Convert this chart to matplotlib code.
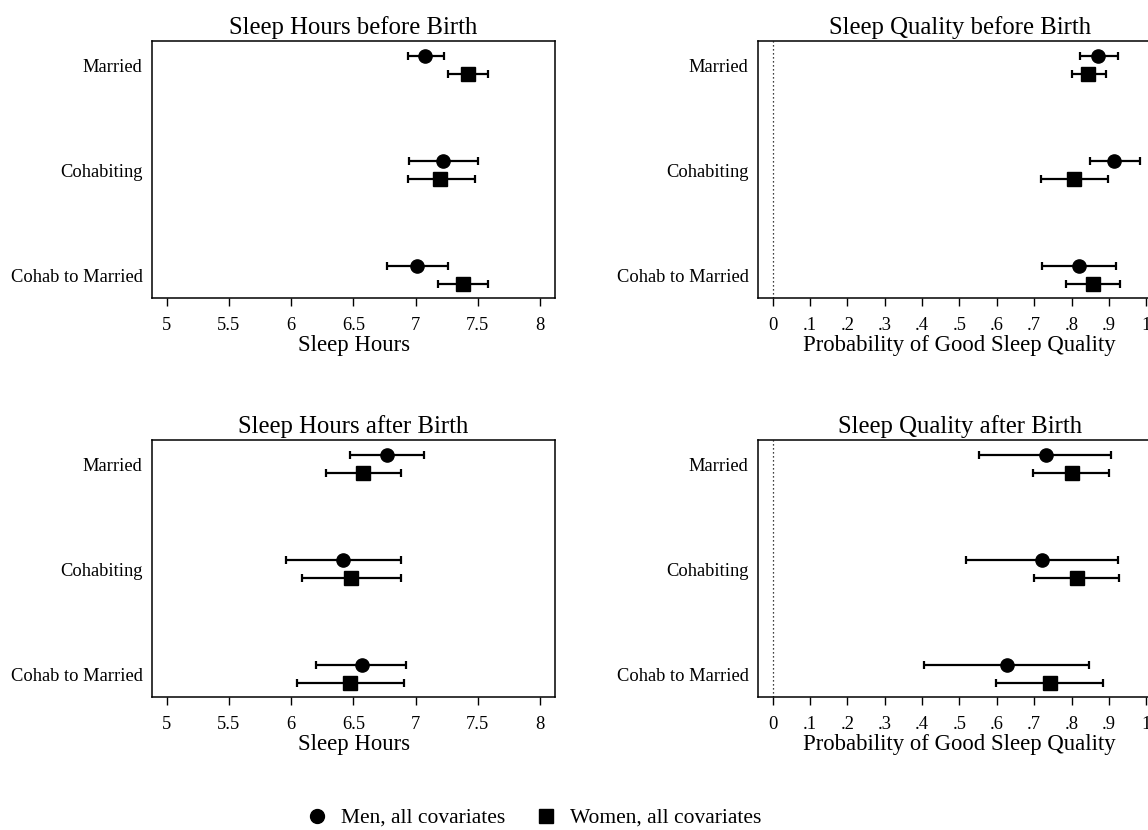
import matplotlib
matplotlib.use('Agg')
import matplotlib.pyplot as plt
from matplotlib.lines import Line2D

plt.rcParams['font.family'] = ['Liberation Serif', 'DejaVu Serif']

groups = ["Married", "Cohabiting", "Cohab to Married"]

# sleep hours before birth
hrs_pre_men = [7.08, 7.22, 7.01]
hrs_pre_men_lo = [6.94, 6.95, 6.77]
hrs_pre_men_hi = [7.23, 7.50, 7.26]
hrs_pre_wom = [7.42, 7.20, 7.38]
hrs_pre_wom_lo = [7.26, 6.94, 7.18]
hrs_pre_wom_hi = [7.58, 7.48, 7.58]

# sleep quality before birth
q_pre_men = [0.872, 0.915, 0.820]
q_pre_men_lo = [0.823, 0.850, 0.720]
q_pre_men_hi = [0.925, 0.983, 0.919]
q_pre_wom = [0.845, 0.808, 0.858]
q_pre_wom_lo = [0.802, 0.718, 0.785]
q_pre_wom_hi = [0.892, 0.897, 0.930]

# sleep hours after birth
hrs_post_men = [6.77, 6.42, 6.57]
hrs_post_men_lo = [6.47, 5.96, 6.20]
hrs_post_men_hi = [7.07, 6.88, 6.92]
hrs_post_wom = [6.58, 6.48, 6.47]
hrs_post_wom_lo = [6.28, 6.09, 6.045]
hrs_post_wom_hi = [6.88, 6.88, 6.91]

# sleep quality after birth
q_post_men = [0.731, 0.720, 0.626]
q_post_men_lo = [0.553, 0.518, 0.405]
q_post_men_hi = [0.906, 0.925, 0.848]
q_post_wom = [0.802, 0.814, 0.742]
q_post_wom_lo = [0.698, 0.700, 0.598]
q_post_wom_hi = [0.901, 0.928, 0.885]

hrs_ticks = [5, 5.5, 6, 6.5, 7, 7.5, 8]
hrs_ticklabels = ["5", "5.5", "6", "6.5", "7", "7.5", "8"]
q_ticks = [0, .1, .2, .3, .4, .5, .6, .7, .8, .9, 1]
q_ticklabels = ["0", ".1", ".2", ".3", ".4", ".5", ".6", ".7", ".8", ".9", "1"]

W, H = 1148, 830
fig = plt.figure(figsize=(W / 100, H / 100), dpi=100)

def box(left, top, right, bottom):
    return [left / W, (H - bottom) / H, (right - left) / W, (bottom - top) / H]

def panel(ax, title, xlabel, men, mlo, mhi, wom, wlo, whi, ticks, ticklabels, xlim, zero_line):
    pos = [1, 2, 3]
    ym = [p - 0.082 for p in pos]
    yw = [p + 0.085 for p in pos]
    if zero_line:
        ax.axvline(0, color='black', linestyle=(0, (1, 2.2)), linewidth=0.9)
    ax.errorbar(men, ym, xerr=[[m - l for m, l in zip(men, mlo)], [h - m for m, h in zip(men, mhi)]],
                fmt='o', color='black', markersize=9.5, elinewidth=1.6, capsize=3.2, capthick=1.6)
    ax.errorbar(wom, yw, xerr=[[m - l for m, l in zip(wom, wlo)], [h - m for m, h in zip(wom, whi)]],
                fmt='s', color='black', markersize=9.5, elinewidth=1.6, capsize=3.2, capthick=1.6)
    ax.set_xlim(xlim)
    ax.set_ylim(3.219, 0.771)
    ax.set_yticks(pos)
    ax.set_yticklabels(groups, fontsize=13.3)
    ax.set_xticks(ticks)
    ax.set_xticklabels(ticklabels, fontsize=13.3)
    ax.tick_params(axis='y', length=0, pad=7)
    ax.tick_params(axis='x', length=6, width=1, pad=7.5, direction='out')
    ax.set_title(title, fontsize=17.8, pad=5)
    ax.set_xlabel(xlabel, fontsize=16.4, labelpad=1)
    for s in ax.spines.values():
        s.set_linewidth(1.1)

hrs_lim = (4.884, 8.121)
q_lim = (-0.0386, 1.0396)

ax1 = fig.add_axes(box(152.3, 41, 555, 298))
panel(ax1, "Sleep Hours before Birth", "Sleep Hours", hrs_pre_men, hrs_pre_men_lo, hrs_pre_men_hi,
      hrs_pre_wom, hrs_pre_wom_lo, hrs_pre_wom_hi, hrs_ticks, hrs_ticklabels, hrs_lim, False)

ax2 = fig.add_axes(box(758.3, 41, 1161, 298))
panel(ax2, "Sleep Quality before Birth", "Probability of Good Sleep Quality", q_pre_men, q_pre_men_lo, q_pre_men_hi,
      q_pre_wom, q_pre_wom_lo, q_pre_wom_hi, q_ticks, q_ticklabels, q_lim, True)

ax3 = fig.add_axes(box(152.3, 440, 555, 697))
panel(ax3, "Sleep Hours after Birth", "Sleep Hours", hrs_post_men, hrs_post_men_lo, hrs_post_men_hi,
      hrs_post_wom, hrs_post_wom_lo, hrs_post_wom_hi, hrs_ticks, hrs_ticklabels, hrs_lim, False)

ax4 = fig.add_axes(box(758.3, 440, 1161, 697))
panel(ax4, "Sleep Quality after Birth", "Probability of Good Sleep Quality", q_post_men, q_post_men_lo, q_post_men_hi,
      q_post_wom, q_post_wom_lo, q_post_wom_hi, q_ticks, q_ticklabels, q_lim, True)

handles = [Line2D([], [], marker='o', color='black', linestyle='none', markersize=10),
           Line2D([], [], marker='s', color='black', linestyle='none', markersize=10)]
fig.legend(handles, ["Men, all covariates", "Women, all covariates"], loc='center',
           bbox_to_anchor=(534 / W, 1 - 818 / H), ncol=2, frameon=False, fontsize=15.5,
           handletextpad=0.6, columnspacing=1.4, handlelength=1.0)

plt.savefig("out.png", dpi=100)
